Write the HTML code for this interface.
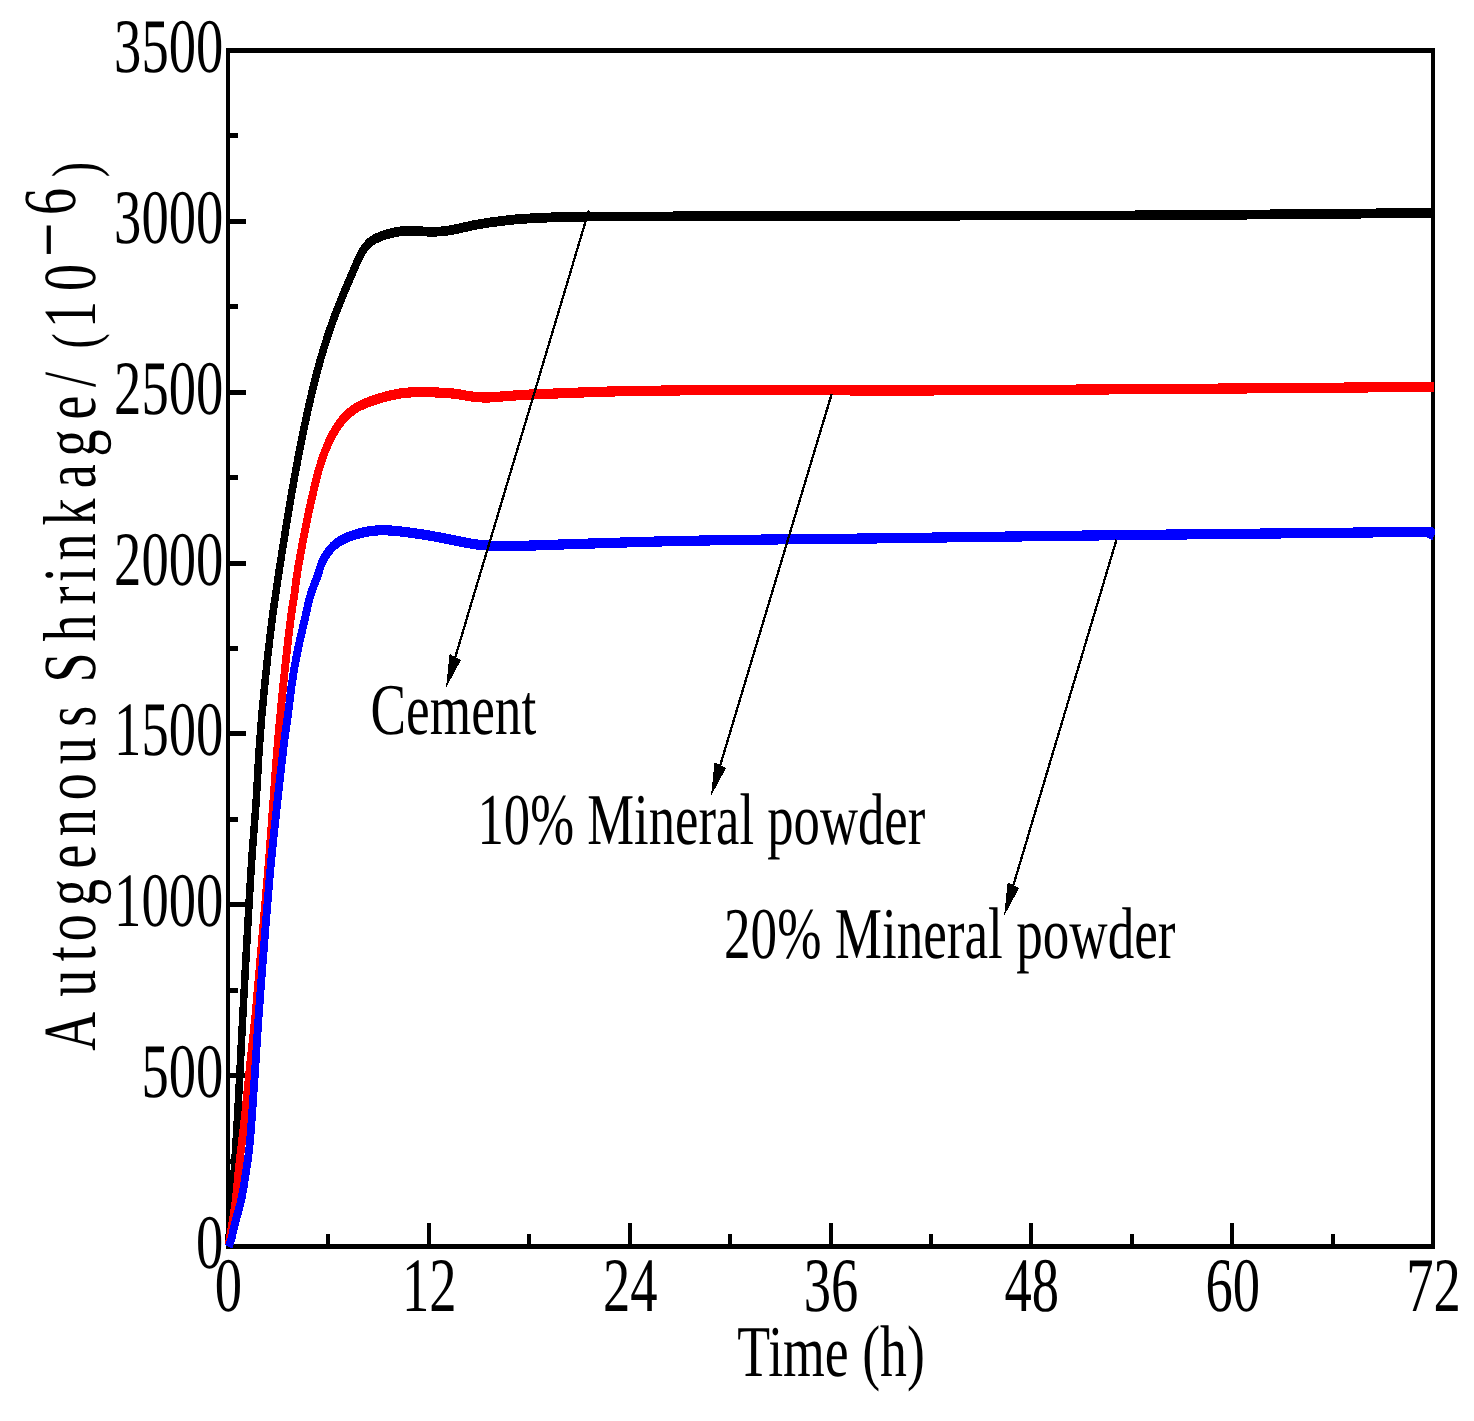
<!DOCTYPE html>
<html lang="en"><head><meta charset="utf-8"><title>Autogenous Shrinkage vs Time</title>
<style>html,body{margin:0;padding:0;background:#fff}svg{display:block}</style></head>
<body>
<svg width="1474" height="1421" viewBox="0 0 1474 1421">
<rect x="0" y="0" width="1474" height="1421" fill="#fff"/>
<g fill="#000" shape-rendering="crispEdges">
<rect x="226" y="48" width="1209" height="5"/>
<rect x="226" y="1244" width="1209" height="5"/>
<rect x="226" y="48" width="4" height="1201"/>
<rect x="1431" y="48" width="4" height="1201"/>
<rect x="230" y="1158.6" width="8" height="5"/>
<rect x="230" y="1073.1" width="16" height="5"/>
<rect x="230" y="987.7" width="8" height="5"/>
<rect x="230" y="902.3" width="16" height="5"/>
<rect x="230" y="816.9" width="8" height="5"/>
<rect x="230" y="731.4" width="16" height="5"/>
<rect x="230" y="646.0" width="8" height="5"/>
<rect x="230" y="560.6" width="16" height="5"/>
<rect x="230" y="475.1" width="8" height="5"/>
<rect x="230" y="389.7" width="16" height="5"/>
<rect x="230" y="304.3" width="8" height="5"/>
<rect x="230" y="218.9" width="16" height="5"/>
<rect x="230" y="133.4" width="8" height="5"/>
<rect x="326.4" y="1234" width="4" height="10"/>
<rect x="426.8" y="1223" width="4" height="21"/>
<rect x="527.2" y="1234" width="4" height="10"/>
<rect x="627.7" y="1223" width="4" height="21"/>
<rect x="728.1" y="1234" width="4" height="10"/>
<rect x="828.5" y="1223" width="4" height="21"/>
<rect x="928.9" y="1234" width="4" height="10"/>
<rect x="1029.3" y="1223" width="4" height="21"/>
<rect x="1129.8" y="1234" width="4" height="10"/>
<rect x="1230.2" y="1223" width="4" height="21"/>
<rect x="1330.6" y="1234" width="4" height="10"/>
</g>
<g transform="scale(1,1.31)" fill="none" stroke-width="7.5" stroke-linejoin="round" stroke-linecap="butt" shape-rendering="crispEdges">
<path d="M228.4,950.99 C228.9,945.62 230.6,928.63 231.6,918.78 C232.6,908.93 233.4,903.10 234.4,891.91 C235.4,880.71 236.6,865.04 237.6,851.60 C238.6,838.17 239.5,824.73 240.4,811.30 C241.3,797.86 241.8,788.66 243.1,770.99 C244.3,753.32 246.5,724.11 247.9,705.27 C249.3,686.42 250.2,673.70 251.6,657.94 C253.0,642.18 254.9,625.59 256.2,610.69 C257.5,595.79 258.1,583.45 259.5,568.55 C260.9,553.65 262.8,537.05 264.9,521.30 C267.0,505.55 270.0,485.61 271.9,474.05 C273.8,462.48 274.7,458.93 276.0,451.91 C277.3,444.89 278.4,439.19 279.9,431.91 C281.4,424.63 283.1,416.12 284.8,408.24 C286.5,400.37 288.1,392.53 289.9,384.66 C291.6,376.78 293.4,368.88 295.3,360.99 C297.2,353.10 299.1,345.20 301.2,337.33 C303.3,329.45 305.2,322.32 307.7,313.74 C310.2,305.17 313.6,294.11 316.4,285.88 C319.2,277.65 321.5,271.41 324.4,264.35 C327.3,257.29 330.9,249.22 333.6,243.51 C336.3,237.80 338.1,234.47 340.4,230.08 C342.7,225.69 345.0,221.48 347.4,217.18 C349.8,212.88 352.5,208.04 354.7,204.27 C356.9,200.51 358.7,197.11 360.4,194.58 C362.1,192.05 363.4,190.69 365.0,189.08 C366.6,187.48 367.9,186.17 369.8,184.96 C371.7,183.75 373.3,182.94 376.5,181.83 C379.7,180.73 384.9,179.21 389.1,178.32 C393.3,177.43 397.6,176.81 401.8,176.49 C406.0,176.17 409.6,176.35 414.5,176.41 C419.4,176.48 426.5,176.86 431.4,176.87 C436.3,176.88 439.6,176.87 444.0,176.49 C448.4,176.11 452.2,175.45 457.9,174.58 C463.6,173.72 470.8,172.28 478.0,171.30 C485.2,170.32 493.2,169.44 501.3,168.70 C509.4,167.96 512.3,167.43 526.5,166.87 C540.7,166.31 551.5,165.64 586.4,165.34 C621.3,165.05 673.7,165.24 736.0,165.11 C798.3,164.99 892.7,164.69 960.0,164.58 C1027.3,164.47 1083.3,164.61 1140.0,164.43 C1196.7,164.25 1251.0,163.84 1300.0,163.51 C1349.0,163.18 1411.7,162.62 1434.0,162.44" stroke="#000"/>
<path d="M228.5,951.15 C229.6,945.75 233.6,928.65 235.3,918.78 C237.0,908.91 237.2,903.10 238.8,891.91 C240.4,880.71 243.1,865.04 245.0,851.60 C246.9,838.17 248.5,824.73 250.3,811.30 C252.1,797.86 253.7,788.66 255.9,770.99 C258.1,753.32 261.2,724.11 263.4,705.27 C265.5,686.42 267.1,673.70 268.8,657.94 C270.5,642.18 271.9,625.59 273.4,610.69 C274.9,595.79 275.9,583.45 277.6,568.55 C279.3,553.65 281.4,537.05 283.5,521.30 C285.6,505.55 288.6,485.23 290.4,474.05 C292.2,462.86 293.2,460.24 294.3,454.20 C295.4,448.16 295.9,443.87 297.2,437.79 C298.4,431.70 300.1,424.61 301.8,417.71 C303.5,410.81 305.3,403.50 307.2,396.41 C309.1,389.33 311.5,381.49 313.4,375.19 C315.3,368.89 316.9,363.75 318.8,358.63 C320.7,353.50 322.7,348.96 325.0,344.43 C327.3,339.90 329.9,335.38 332.8,331.45 C335.7,327.52 338.2,324.19 342.1,320.84 C346.0,317.49 350.3,314.03 356.0,311.37 C361.7,308.72 368.9,306.70 376.1,304.89 C383.3,303.07 391.6,301.39 399.3,300.46 C407.1,299.53 413.6,299.31 422.6,299.31 C431.6,299.31 445.6,299.92 453.5,300.46 C461.4,300.99 464.6,302.02 470.0,302.52 C475.4,303.02 480.5,303.42 486.0,303.44 C491.5,303.45 494.6,303.00 503.0,302.60 C511.4,302.19 514.3,301.69 536.5,300.99 C558.7,300.29 597.2,298.96 636.0,298.40 C674.8,297.84 730.2,297.68 769.0,297.63 C807.8,297.58 837.2,298.04 869.0,298.09 C900.8,298.14 914.8,298.10 960.0,297.94 C1005.2,297.77 1083.3,297.39 1140.0,297.10 C1196.7,296.81 1251.0,296.49 1300.0,296.18 C1349.0,295.88 1411.7,295.42 1434.0,295.27" stroke="#ff0000" stroke-width="7.8"/>
<path d="M228.8,951.68 C229.2,950.67 230.3,948.89 231.4,945.65 C232.5,942.40 234.0,936.69 235.5,932.21 C237.0,927.74 239.0,923.26 240.4,918.78 C241.8,914.30 242.4,912.06 243.8,905.34 C245.2,898.63 247.6,887.43 249.0,878.47 C250.4,869.52 250.9,862.80 252.0,851.60 C253.1,840.41 254.4,824.73 255.6,811.30 C256.8,797.86 257.4,788.66 259.1,770.99 C260.8,753.32 263.8,724.11 265.8,705.27 C267.8,686.42 269.1,673.70 271.1,657.94 C273.1,642.18 275.5,625.59 277.6,610.69 C279.7,595.79 282.1,579.50 283.8,568.55 C285.6,557.60 286.7,552.84 288.1,544.96 C289.5,537.09 290.4,529.19 292.0,521.30 C293.6,513.41 295.3,505.51 297.4,497.63 C299.5,489.76 302.4,480.65 304.4,474.05 C306.4,467.44 307.8,462.09 309.2,458.02 C310.6,453.94 311.2,452.60 312.6,449.62 C314.0,446.64 315.8,443.50 317.3,440.15 C318.9,436.81 320.1,432.68 321.9,429.54 C323.7,426.40 325.5,423.85 328.1,421.30 C330.7,418.74 333.8,416.17 337.4,414.20 C341.0,412.23 345.1,410.81 349.8,409.47 C354.5,408.12 360.1,406.90 365.3,406.11 C370.5,405.32 375.7,404.86 380.8,404.73 C385.9,404.61 390.5,404.95 396.2,405.34 C401.9,405.74 407.8,406.32 414.8,407.10 C421.8,407.88 430.2,408.92 438.0,410.00 C445.8,411.08 454.3,412.60 461.3,413.59 C468.3,414.58 473.1,415.39 480.0,415.95 C486.9,416.51 494.7,416.86 503.0,416.95 C511.3,417.04 518.8,416.74 530.0,416.49 C541.2,416.23 546.8,415.98 570.0,415.42 C593.2,414.86 636.3,413.73 669.5,413.13 C702.7,412.53 735.8,412.18 769.0,411.83 C802.2,411.49 837.2,411.36 869.0,411.07 C900.8,410.78 914.8,410.53 960.0,410.08 C1005.2,409.62 1083.3,408.83 1140.0,408.32 C1196.7,407.81 1253.3,407.40 1300.0,407.02 C1346.7,406.64 1398.7,406.11 1420.0,406.03 C1441.3,405.95 1425.7,406.11 1428.0,406.56 C1430.3,407.02 1433.0,408.41 1434.0,408.78" stroke="#0000ff" stroke-width="7.8"/>
</g>
<g stroke="#000" stroke-width="2.3" fill="#000" shape-rendering="crispEdges">
<line x1="588.9" y1="210.4" x2="455.3" y2="657.0"/>
<polygon stroke="none" points="446,687.8 449.6,654.0 461.0,660.0"/>
<line x1="831.7" y1="393.9" x2="720.3" y2="765.1"/>
<polygon stroke="none" points="711,795.9 714.6,762.1 726.0,768.1"/>
<line x1="1116.5" y1="539.7" x2="1013.4" y2="885.1"/>
<polygon stroke="none" points="1004.1,915.9 1007.7,882.1 1019.1,888.1"/>
</g>
<g font-family="'Liberation Serif', 'Times New Roman', serif" font-size="73" fill="#000" text-rendering="geometricPrecision">
<text font-size="77" transform="translate(223.3,1268.0) scale(0.709,1)" text-anchor="end">0</text>
<text font-size="77" transform="translate(223.3,1097.1) scale(0.709,1)" text-anchor="end">500</text>
<text font-size="77" transform="translate(223.3,926.3) scale(0.709,1)" text-anchor="end">1000</text>
<text font-size="77" transform="translate(223.3,755.4) scale(0.709,1)" text-anchor="end">1500</text>
<text font-size="77" transform="translate(223.3,584.6) scale(0.709,1)" text-anchor="end">2000</text>
<text font-size="77" transform="translate(223.3,413.7) scale(0.709,1)" text-anchor="end">2500</text>
<text font-size="77" transform="translate(223.3,242.9) scale(0.709,1)" text-anchor="end">3000</text>
<text font-size="77" transform="translate(223.3,72.0) scale(0.709,1)" text-anchor="end">3500</text>
<text font-size="77" transform="translate(228.5,1311) scale(0.709,1)" text-anchor="middle">0</text>
<text font-size="77" transform="translate(429.3,1311) scale(0.709,1)" text-anchor="middle">12</text>
<text font-size="77" transform="translate(630.2,1311) scale(0.709,1)" text-anchor="middle">24</text>
<text font-size="77" transform="translate(831.0,1311) scale(0.709,1)" text-anchor="middle">36</text>
<text font-size="77" transform="translate(1031.8,1311) scale(0.709,1)" text-anchor="middle">48</text>
<text font-size="77" transform="translate(1232.7,1311) scale(0.709,1)" text-anchor="middle">60</text>
<text font-size="77" transform="translate(1433.5,1311) scale(0.709,1)" text-anchor="middle">72</text>
<text transform="translate(831,1376) scale(0.7359,1)" text-anchor="middle">Time (h)</text>
<text transform="translate(370.5,734.4) scale(0.7299,1)" text-anchor="start">Cement</text>
<text transform="translate(477.5,843.5) scale(0.7218,1)" text-anchor="start">10% Mineral powder</text>
<text transform="translate(724,958.4) scale(0.7278,1)" text-anchor="start">20% Mineral powder</text>
<text font-size="75" transform="translate(94.5,1051.0) rotate(-90) scale(0.72,1)" x="0.3 75.4 124.6 152.6 201.5 253.5 298.3 348.4 398.1 450.4 483.3 511.9 568.8 620.2 651.4 681.2 729.9 781.7 825.8 877.2 922.4 941.6 975.6 1004.3 1055.7 1102.9 1161.2 1213.6" y="0 0 0 0 0 0 0 0 0 0 0 0 0 0 0 0 0 0 0 0 0 0 1.5 0 0 -17.7 -20 1.5">Autogenous Shrinkage/ <tspan font-size="64">(</tspan>10<tspan font-size="85">−</tspan>6<tspan font-size="64">)</tspan></text>
</g>
</svg>
</body></html>
